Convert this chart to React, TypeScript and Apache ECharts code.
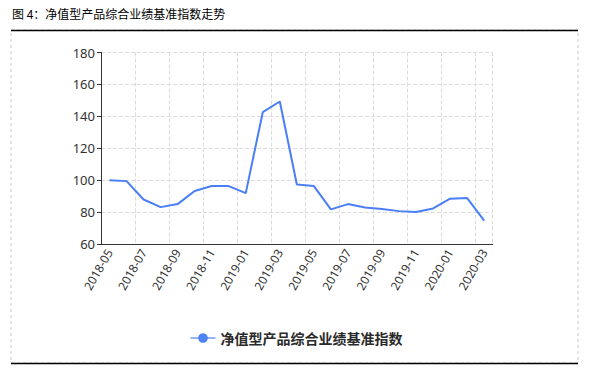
import React, { useEffect, useRef } from "react";
import * as echarts from "echarts";

const categories = [
  "2018-05", "2018-06", "2018-07", "2018-08", "2018-09", "2018-10", "2018-11", "2018-12",
  "2019-01", "2019-02", "2019-03", "2019-04", "2019-05", "2019-06", "2019-07", "2019-08",
  "2019-09", "2019-10", "2019-11", "2019-12", "2020-01", "2020-02", "2020-03",
];
const indexValues = [
  100.0, 99.4, 87.9, 83.1, 85.0, 93.2, 96.3, 96.3,
  91.9, 142.6, 149.3, 97.3, 96.3, 81.7, 85.0, 82.9,
  81.9, 80.6, 80.0, 82.3, 88.4, 88.8, 74.6,
];
const seriesName = "净值型产品综合业绩基准指数";
const titleText = "图 4：净值型产品综合业绩基准指数走势";
const yMin = 60;
const yMax = 180;
const yInterval = 20;

export default function App() {
  const ref = useRef<HTMLDivElement>(null);
  useEffect(() => {
    document.body.style.margin = "0";
    const chart = echarts.init(ref.current!, null, { renderer: "svg" });
    chart.setOption({
      animation: false,
      textStyle: { fontFamily: "'Noto Sans', 'Noto Sans CJK SC', sans-serif" },
      graphic: [
        {
          type: "text",
          left: 12,
          top: 7,
          style: {
            text: titleText,
            font: "normal 12px 'Noto Sans CJK SC', sans-serif",
            fill: "#000",
          },
        },
        {
          type: "rect",
          shape: { x: 11, y: 30, width: 567, height: 333 },
          style: { fill: "none", stroke: "#c8c8c8", lineWidth: 1, lineDash: [3, 3] },
          z: 1,
        },
        {
          type: "line",
          shape: { x1: 11, y1: 30.5, x2: 578, y2: 30.5 },
          style: { stroke: "#000", lineWidth: 1.5 },
          z: 2,
        },
        {
          type: "line",
          shape: { x1: 11, y1: 363.5, x2: 578, y2: 363.5 },
          style: { stroke: "#000", lineWidth: 1.5 },
          z: 2,
        },
      ],
      grid: { left: 101, right: 99.3, top: 52.5, bottom: 136, containLabel: false },
      legend: {
        bottom: 30,
        left: "center",
        itemWidth: 25,
        itemHeight: 12,
        lineStyle: { color: "#93b3f8" },
        textStyle: {
          fontSize: 14,
          fontWeight: "bold",
          color: "#2a2a2a",
          fontFamily: "'Noto Sans CJK SC', serif",
        },
        data: [seriesName],
      },
      xAxis: {
        type: "category",
        data: categories,
        boundaryGap: true,
        axisLine: { lineStyle: { color: "#333" } },
        axisTick: { alignWithLabel: true, interval: 1, length: 4, lineStyle: { color: "#333" } },
        axisLabel: { interval: 1, rotate: 60, fontSize: 12, color: "#333", margin: 6 },
        splitLine: { show: true, interval: 1, lineStyle: { type: "dashed", color: "#dcdcdc" } },
      },
      yAxis: {
        type: "value",
        min: yMin,
        max: yMax,
        interval: yInterval,
        axisLine: { show: true, lineStyle: { color: "#333" } },
        axisTick: { show: true, length: 4, lineStyle: { color: "#333" } },
        axisLabel: { fontSize: 13, color: "#333", margin: 6 },
        splitLine: { show: true, lineStyle: { type: "dashed", color: "#dcdcdc" } },
      },
      series: [
        {
          name: seriesName,
          type: "line",
          data: indexValues,
          symbol: "circle",
          symbolSize: 12,
          showSymbol: false,
          itemStyle: { color: "#4e83f5" },
          lineStyle: { color: "#4a7ef6", width: 2 },
        },
      ],
    });
    return () => chart.dispose();
  }, []);
  return <div ref={ref} style={{ width: 592, height: 380 }} />;
}
